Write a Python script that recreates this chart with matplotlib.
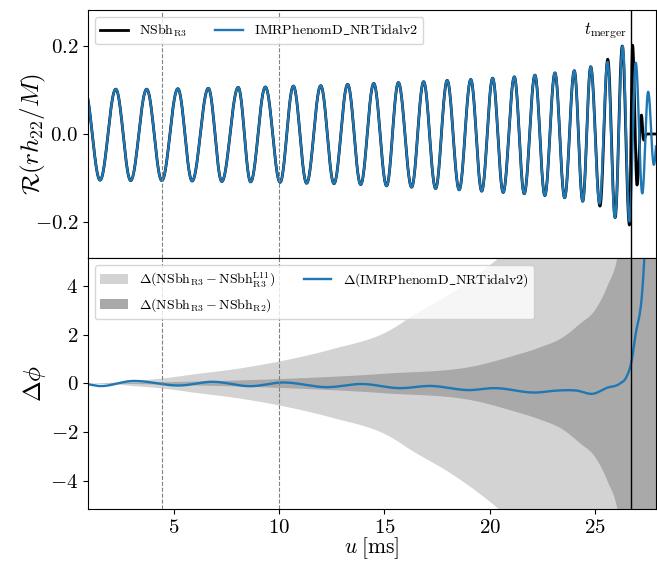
import numpy as np
import matplotlib
matplotlib.use("Agg")
import matplotlib.pyplot as plt

plt.rcParams["font.family"] = "serif"
plt.rcParams["font.serif"] = ["cmr10"]
plt.rcParams["mathtext.fontset"] = "cm"
plt.rcParams["axes.formatter.use_mathtext"] = True

# extrema of the waveform (time in ms, value)
model_u = [0.75, 1.485, 2.23, 2.94, 3.70, 4.42, 5.18, 5.86, 6.63, 7.27, 8.05, 8.64,
           9.34, 10.04, 10.67, 11.30, 11.97, 12.60, 13.25, 13.87, 14.49, 15.10, 15.66,
           16.29, 16.86, 17.43, 17.98, 18.55, 19.10, 19.62, 20.14, 20.64, 21.17, 21.64,
           22.15, 22.62, 23.10, 23.56, 24.02, 24.42, 24.80, 25.22, 25.60, 25.95, 26.32,
           26.64, 26.94, 27.25, 27.53, 27.80, 28.05]
model_h = [0.102, -0.105, 0.102, -0.106, 0.102, -0.106, 0.103, -0.107, 0.104, -0.108,
           0.106, -0.109, 0.107, -0.110, 0.109, -0.112, 0.110, -0.113, 0.113, -0.115,
           0.115, -0.118, 0.117, -0.121, 0.119, -0.124, 0.122, -0.127, 0.124, -0.130,
           0.127, -0.133, 0.130, -0.136, 0.134, -0.140, 0.139, -0.145, 0.144, -0.153,
           0.153, -0.158, 0.164, -0.190, 0.200, -0.199, 0.162, -0.135, 0.096, -0.070, 0.05]

nr_u = model_u[:41] + [25.24, 25.61, 25.96, 26.30, 26.64, 26.79, 27.00, 27.21, 27.32,
                       27.45, 28.05]
nr_h = model_h[:41] + [-0.164, 0.170, -0.190, 0.200, -0.207, 0.202, -0.116, 0.043,
                       -0.014, 0.0, 0.0]

# phase difference of the model
dphi_u = [0.91, 1.39, 2.97, 5.34, 6.77, 8.67, 10.1, 12.32, 13.9, 15.74, 17.16, 19.06,
          20.17, 22.23, 23.18, 24.13, 24.92, 25.56, 26.19, 26.5, 26.74, 26.95, 27.1,
          27.2, 27.3, 27.4]
dphi = [-0.03, -0.1, 0.1, -0.08, 0.07, -0.11, 0.04, -0.15, -0.02, -0.19, -0.1, -0.27,
        -0.19, -0.37, -0.29, -0.29, -0.42, -0.18, 0.0, 0.27, 0.9, 2.1, 2.7, 3.3, 4.4, 6.0]

# half widths of the error bands
light_u = [0.9, 2, 3, 4.4, 6, 8, 10, 12.5, 15.2, 16.4, 18, 19.5, 20.5, 22, 24, 26, 28]
light_w = [0.0, 0.03, 0.1, 0.2, 0.38, 0.6, 0.9, 1.4, 2.15, 2.8, 3.6, 4.5, 5.2, 6.5, 8.0,
           10.0, 12.0]
dark_u = [0.9, 3, 5, 10, 15, 19.5, 21, 22.3, 23.5, 24.3, 25.0, 25.6, 26.1, 26.5, 28]
dark_w = [0.0, 0.02, 0.06, 0.18, 0.4, 0.75, 1.1, 1.45, 1.9, 2.45, 3.0, 4.0, 5.3, 8.0, 15.0]

t_merger = 26.73
u_marks = [4.42, 9.97]


def wave(u, h, n=40):
    # half cosine between consecutive extrema
    xs, ys = [], []
    s = np.linspace(0, 1, n, endpoint=False)
    for i in range(len(u) - 1):
        xs.append(u[i] + (u[i + 1] - u[i]) * s)
        ys.append(h[i] + (h[i + 1] - h[i]) * (1 - np.cos(np.pi * s)) / 2)
    xs.append([u[-1]])
    ys.append([h[-1]])
    return np.concatenate(xs), np.concatenate(ys)


def smooth(x, y, n=30):
    x = np.asarray(x, float)
    y = np.asarray(y, float)
    m = np.gradient(y, x)
    xs, ys = [], []
    t = np.linspace(0, 1, n, endpoint=False)
    for i in range(len(x) - 1):
        h = x[i + 1] - x[i]
        h00 = 2 * t**3 - 3 * t**2 + 1
        h10 = t**3 - 2 * t**2 + t
        h01 = -2 * t**3 + 3 * t**2
        h11 = t**3 - t**2
        xs.append(x[i] + h * t)
        ys.append(h00 * y[i] + h10 * h * m[i] + h01 * y[i + 1] + h11 * h * m[i + 1])
    xs.append([x[-1]])
    ys.append([y[-1]])
    return np.concatenate(xs), np.concatenate(ys)


fig = plt.figure(figsize=(6.57, 5.61), dpi=100)
ax1 = fig.add_axes([0.1339, 0.5401, 0.8645, 0.4421])
ax2 = fig.add_axes([0.1339, 0.0927, 0.8645, 0.4474], sharex=ax1)

x, y = wave(nr_u, nr_h)
ax1.plot(x, y, color="k", lw=2.0, label=r"NSbh$_{\rm R3}$")
x, y = wave(model_u, model_h)
ax1.plot(x, y, color="#1f77b4", lw=1.7, label=r"$\mathrm{IMRPhenomD\_NRTidalv2}$")
ax1.set_ylim(-0.282, 0.282)
ax1.set_yticks([-0.2, 0.0, 0.2])
ax1.set_ylabel(r"$\mathcal{R}(r h_{22}/M)$", fontsize=18)
ax1.yaxis.set_label_coords(-0.071, 0.5)
ax1.legend(loc="upper left", ncol=2, fontsize=10)
ax1.text(t_merger - 0.2, 0.236, r"$t_{\rm merger}$", ha="right", va="center", fontsize=12)
plt.setp(ax1.get_xticklabels(), visible=False)

x, w = smooth(light_u, light_w)
ax2.fill_between(x, -w, w, color="lightgray", lw=0,
                 label=r"$\Delta(\mathrm{NSbh}_{\rm R3} - \mathrm{NSbh}^{\rm L11}_{\rm R3})$")
x, w = smooth(dark_u, dark_w)
ax2.fill_between(x, -w, w, color="darkgray", lw=0,
                 label=r"$\Delta(\mathrm{NSbh}_{\rm R3} - \mathrm{NSbh}_{\rm R2})$")
x, y = smooth(dphi_u, dphi)
ax2.plot(x, y, color="#1f77b4", lw=1.7, label=r"$\Delta(\mathrm{IMRPhenomD\_NRTidalv2})$")
ax2.set_ylim(-5.14, 5.14)
ax2.set_yticks([-4, -2, 0, 2, 4])
ax2.set_ylabel(r"$\Delta\phi$", fontsize=18)
ax2.yaxis.set_label_coords(-0.071, 0.5)
ax2.set_xlabel(r"$u\;[{\rm ms}]$", fontsize=15.5, labelpad=-1)
ax2.legend(loc="upper left", ncol=2, fontsize=10)

for ax in (ax1, ax2):
    for um in u_marks:
        ax.axvline(um, color="gray", ls="--", lw=0.8)
    ax.axvline(t_merger, color="k", lw=1.0)
    ax.tick_params(labelsize=15)

ax2.set_xlim(0.91, 27.9)
ax2.set_xticks([5, 10, 15, 20, 25])

fig.savefig("out.png", dpi=100)
